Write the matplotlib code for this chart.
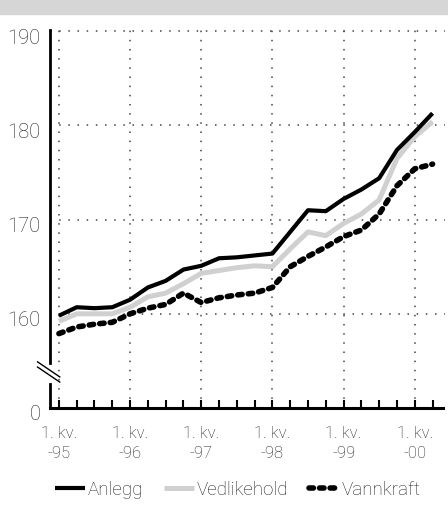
import numpy as np
import matplotlib
matplotlib.use("Agg")
import matplotlib.pyplot as plt
from matplotlib.patches import Rectangle
from matplotlib.transforms import ScaledTranslation

# quarterly index values, 1. kv. 1995 - 2. kv. 2000
quarters = list(range(22))
anlegg = [159.8, 160.7, 160.6, 160.7, 161.5, 162.8, 163.5, 164.7, 165.1, 165.9, 166.0,
          166.2, 166.4, 168.7, 171.0, 170.9, 172.2, 173.2, 174.4, 177.4, 179.3, 181.3]
vedlikehold = [159.2, 160.0, 160.0, 160.0, 160.7, 161.8, 162.2, 163.2, 164.3, 164.6, 164.9,
               165.1, 165.0, 166.9, 168.7, 168.3, 169.6, 170.6, 172.1, 176.5, 178.8, 180.4]
vannkraft = [157.9, 158.6, 158.9, 159.1, 160.0, 160.6, 161.0, 162.2, 161.2, 161.7, 162.0,
             162.2, 162.8, 165.0, 166.1, 167.1, 168.2, 168.9, 170.6, 173.6, 175.4, 175.9]

year_ticks = [0, 4, 8, 12, 16, 20]
year_labels = ["1. kv.\n-95", "1. kv.\n-96", "1. kv.\n-97", "1. kv.\n-98", "1. kv.\n-99", "1. kv.\n-00"]
y_ticks = [150, 160, 170, 180, 190]
y_labels = ["0", "160", "170", "180", "190"]

plt.rcParams['font.family'] = ['Roboto', 'DejaVu Sans']
txt = '#222222'

fig = plt.figure(figsize=(4.48, 5.13), dpi=100)
fig.patches.append(Rectangle((0, 1 - 14 / 513), 1, 14 / 513, transform=fig.transFigure,
                             color='#d6d6d6', zorder=0))

ax = fig.add_axes([50 / 448, 105 / 513, 395 / 448, 378 / 513])
ax.set_xlim(-0.5, 21.7)
ax.set_ylim(150, 190.14)

# gridlines
dots = (0, (1, 5))
for y in y_ticks[1:]:
    ax.axhline(y, color='#444444', lw=1.1, ls=dots, zorder=1)
for x in year_ticks:
    ax.axvline(x, color='#444444', lw=1.1, ls=dots, zorder=1)

ax.plot(quarters, vedlikehold, color='#d0d0d0', lw=3.6, solid_capstyle='butt', zorder=3,
        label='Vedlikehold')
ax.plot(quarters, vannkraft, color='black', lw=4.0, dashes=(0.8, 1.1),
        dash_capstyle='round', zorder=4, label='Vannkraft')
ax.plot(quarters, anlegg, color='black', lw=3.0, solid_capstyle='butt', zorder=5,
        label='Anlegg')

for s in ['top', 'right']:
    ax.spines[s].set_visible(False)
ax.spines['left'].set_linewidth(2.0)
ax.spines['left'].set_bounds(154.8, 190.14)
ax.spines['bottom'].set_linewidth(2.2)
ax.spines['bottom'].set_bounds(-0.5, 21.6)
ax.plot([-0.5, -0.5], [150, 152.6], color='black', lw=2.0, clip_on=False, zorder=6)

# axis break marks
for dy in [0, -0.55]:
    ax.plot([-1.2, 0.05], [154.9 + dy, 153.3 + dy], color='black', lw=1.0,
            clip_on=False, zorder=6)

ax.set_xticks(year_ticks)
ax.set_xticks(quarters, minor=True)
ax.set_xticklabels(year_labels, fontsize=12, color=txt, fontweight='light', linespacing=1.45)
ax.tick_params(axis='x', which='both', direction='in', length=6, width=1.5, pad=13)
ax.set_yticks(y_ticks)
ax.set_yticklabels(y_labels, fontsize=14.5, color=txt, fontweight='light')
ax.tick_params(axis='y', length=0, pad=7)
off = ScaledTranslation(0, -5 / 100, fig.dpi_scale_trans)
for lab in ax.get_yticklabels():
    lab.set_transform(lab.get_transform() + off)

h, l = ax.get_legend_handles_labels()
order = [2, 0, 1]
leg = fig.legend([h[i] for i in order], [l[i] for i in order], loc='center',
                 bbox_to_anchor=(0.53, 0.045), ncol=3, frameon=False,
                 handlelength=1.6, handletextpad=0.15, columnspacing=1.1,
                 prop={'size': 13.5, 'weight': 'light'})
for t in leg.get_texts():
    t.set_color(txt)

fig.savefig('out.png', dpi=100)
